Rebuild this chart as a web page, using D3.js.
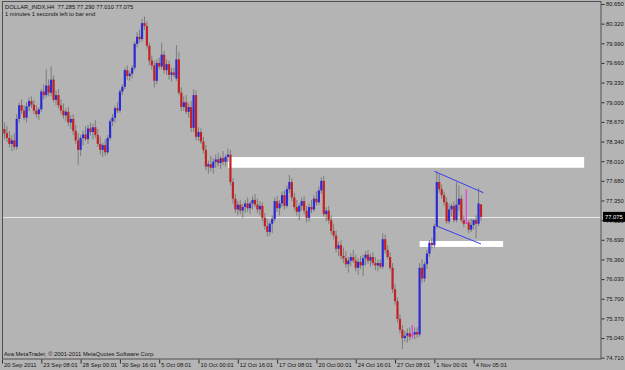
<!DOCTYPE html>
<html>
<head>
<meta charset="utf-8">
<script src="https://cdn.jsdelivr.net/npm/d3@7"></script>
<style>
  html, body { margin: 0; padding: 0; background: #b4b4b4; }
  svg { display: block; font-family: "Liberation Sans", Arial, sans-serif; }
</style>
</head>
<body>
<svg id="chart" width="625" height="370"></svg>
<script>
// H4 candles, DOLLAR_INDX, 20 Sep - 4 Nov 2011
const opens = [
  78.45,78.55,78.48,78.40,78.30,78.36,78.25,78.72,78.95,78.86,
  78.74,78.93,79.02,78.96,78.86,78.80,78.88,79.18,79.12,79.28,
  79.16,79.38,79.04,79.12,78.95,78.86,78.78,78.84,78.66,78.72,
  78.52,78.36,78.20,78.40,78.46,78.38,78.56,78.50,78.58,78.45,
  78.30,78.20,78.28,78.16,78.40,78.68,78.74,78.90,78.86,79.18,
  79.26,79.54,79.44,79.48,79.58,79.98,80.10,80.06,80.33,80.28,
  79.95,79.70,79.62,79.36,79.66,79.60,79.80,79.54,79.64,79.46,
  79.50,79.40,79.72,79.16,78.92,79.00,78.84,78.92,78.57,79.12,
  78.42,78.50,78.34,78.20,77.92,77.96,77.90,78.00,78.04,77.98,
  78.06,78.00,78.08,78.12,77.66,77.38,77.20,77.28,77.18,77.24,
  77.30,77.22,77.30,77.36,77.28,77.20,77.26,77.06,76.92,76.82,
  76.96,77.04,77.34,77.22,77.30,77.44,77.26,77.54,77.66,77.40,
  77.24,77.16,77.26,77.34,77.18,77.06,77.24,77.20,77.38,77.32,
  77.52,77.68,77.12,77.18,77.02,76.84,76.76,76.54,76.60,76.42,
  76.38,76.28,76.34,76.40,76.34,76.22,76.32,76.26,76.38,76.44,
  76.34,76.40,76.30,76.26,76.30,76.24,76.70,76.52,76.40,76.22,
  75.86,75.66,75.36,75.18,75.04,75.08,75.12,75.10,75.10,75.14,
  75.10,76.22,76.04,76.28,76.46,76.64,76.60,76.92,77.66,77.54,
  77.44,77.32,77.00,77.20,77.26,77.02,77.28,77.38,77.02,76.98,
  76.98,76.86,76.94,77.02,76.96,77.285
];
const highs = [
  78.62,78.66,78.60,78.52,78.45,78.48,78.80,79.00,79.05,78.95,
  79.00,79.08,79.10,79.04,78.95,78.92,79.22,79.30,79.55,79.38,
  79.60,79.45,79.20,79.22,79.05,78.98,78.90,78.92,78.78,78.80,
  78.62,78.48,78.45,78.52,78.60,78.62,78.66,78.64,78.70,78.55,
  78.42,78.32,78.38,78.45,78.72,78.80,78.94,79.00,79.22,79.30,
  79.58,79.62,79.52,79.62,80.02,80.18,80.22,80.40,80.44,80.36,
  80.00,79.78,79.70,79.72,79.75,80.00,79.86,79.72,79.70,79.58,
  79.58,79.96,79.85,79.25,79.10,79.12,78.98,79.02,79.22,79.20,
  78.58,78.56,78.42,78.28,78.02,78.10,78.06,78.12,78.15,78.10,
  78.18,78.12,78.22,78.20,77.72,77.46,77.34,77.36,77.30,77.36,
  77.40,77.34,77.42,77.46,77.38,77.34,77.32,77.14,77.04,77.00,
  77.10,77.40,77.42,77.36,77.50,77.52,77.60,77.78,77.72,77.48,
  77.36,77.30,77.40,77.42,77.26,77.30,77.36,77.44,77.50,77.58,
  77.74,77.76,77.24,77.26,77.10,76.96,76.84,76.66,76.68,76.56,
  76.50,76.40,76.46,76.52,76.44,76.38,76.42,76.44,76.50,76.52,
  76.46,76.48,76.40,76.36,76.36,76.80,76.78,76.60,76.48,76.30,
  75.94,75.72,75.44,75.26,75.16,75.20,75.22,75.26,75.22,75.22,
  76.30,76.36,76.32,76.52,76.68,76.72,76.96,77.84,77.80,77.62,
  77.50,77.40,77.30,77.30,77.34,77.66,77.60,77.44,77.10,77.54,
  77.02,77.04,77.04,77.10,77.56,77.290
];
const lows = [
  78.30,78.38,78.33,78.24,78.18,78.20,78.20,78.65,78.80,78.70,
  78.66,78.85,78.90,78.80,78.74,78.70,78.84,79.05,79.08,79.10,
  79.10,79.00,78.95,78.90,78.80,78.72,78.68,78.60,78.55,78.45,
  78.30,77.95,78.10,78.28,78.35,78.30,78.44,78.38,78.40,78.25,
  78.12,78.08,78.10,78.12,78.36,78.60,78.66,78.82,78.82,79.12,
  79.22,79.38,79.36,79.40,79.54,79.92,80.00,80.02,80.22,79.90,
  79.62,79.55,79.25,79.30,79.55,79.55,79.48,79.46,79.38,79.35,
  79.42,79.36,79.12,78.85,78.86,78.80,78.74,78.50,78.50,78.36,
  78.35,78.30,78.14,77.86,77.80,77.84,77.80,77.90,77.92,77.88,
  77.94,77.92,78.00,77.60,77.30,77.14,77.10,77.12,77.06,77.14,
  77.16,77.12,77.20,77.24,77.14,77.10,77.00,76.86,76.74,76.76,
  76.80,77.00,77.16,77.10,77.24,77.20,77.22,77.48,77.34,77.18,
  77.10,77.02,77.18,77.12,76.98,77.00,77.14,77.16,77.26,77.28,
  77.46,77.08,77.00,76.96,76.78,76.70,76.48,76.42,76.36,76.30,
  76.22,76.14,76.24,76.30,76.16,76.10,76.20,76.08,76.26,76.28,
  76.24,76.26,76.18,76.16,76.20,76.20,76.46,76.36,76.18,75.80,
  75.60,75.30,75.12,74.86,74.98,74.96,75.00,75.03,75.02,75.04,
  75.06,75.96,75.98,76.20,76.40,76.54,76.56,76.88,77.48,77.38,
  77.26,76.96,76.96,77.08,76.98,76.98,77.18,76.98,76.90,76.96,
  76.80,76.82,76.86,76.72,76.92,77.010
];
const closes = [
  78.55,78.48,78.40,78.30,78.36,78.25,78.72,78.95,78.86,78.74,
  78.93,79.02,78.96,78.86,78.80,78.88,79.18,79.12,79.28,79.16,
  79.38,79.04,79.12,78.95,78.86,78.78,78.84,78.66,78.72,78.52,
  78.36,78.20,78.40,78.46,78.38,78.56,78.50,78.58,78.45,78.30,
  78.20,78.28,78.16,78.40,78.68,78.74,78.90,78.86,79.18,79.26,
  79.54,79.44,79.48,79.58,79.98,80.10,80.06,80.33,80.28,79.95,
  79.70,79.62,79.36,79.66,79.60,79.80,79.54,79.64,79.46,79.50,
  79.46,79.72,79.16,78.92,79.00,78.84,78.92,78.57,79.12,78.42,
  78.50,78.34,78.20,77.92,77.96,77.90,78.00,78.04,77.98,78.06,
  78.00,78.08,78.12,77.66,77.38,77.20,77.28,77.18,77.24,77.30,
  77.22,77.30,77.36,77.28,77.20,77.26,77.06,76.92,76.82,76.96,
  77.04,77.34,77.22,77.30,77.44,77.26,77.54,77.66,77.40,77.24,
  77.16,77.26,77.34,77.18,77.06,77.24,77.20,77.38,77.32,77.52,
  77.68,77.12,77.18,77.02,76.84,76.76,76.54,76.60,76.42,76.38,
  76.28,76.34,76.40,76.34,76.22,76.32,76.26,76.38,76.44,76.34,
  76.40,76.30,76.26,76.30,76.24,76.70,76.52,76.40,76.22,75.86,
  75.66,75.36,75.18,75.04,75.08,75.12,75.06,75.10,75.14,75.10,
  76.22,76.04,76.28,76.46,76.64,76.60,76.92,77.66,77.54,77.44,
  77.32,77.00,77.20,77.26,77.02,77.28,77.38,77.02,76.96,76.98,
  76.86,76.94,77.02,76.96,77.30,77.075
];

// axis labels
const priceTicks = [80.65, 80.32, 79.99, 79.66, 79.33, 79.00, 78.67, 78.34, 78.01,
  77.68, 77.35, 77.02, 76.69, 76.36, 76.03, 75.70, 75.37, 75.04, 74.71];
const timeLabels = ['20 Sep 2011', '23 Sep 08:01', '28 Sep 00:01', '30 Sep 16:01',
  '5 Oct 08:01', '10 Oct 00:01', '12 Oct 16:01', '17 Oct 08:01', '20 Oct 00:01',
  '24 Oct 16:01', '27 Oct 08:01', '1 Nov 00:01', '4 Nov 05:01'];
const timeTickBars = [0, 16, 32, 48, 64, 80, 96, 112, 128, 144, 160, 176, 192];

// drawn objects: [startBar, endBar, lowPrice, highPrice]
const zones = [[92, 237, 77.90, 78.08], [170, 204, 76.57, 76.67]];
// trend lines: [bar1, price1, bar2, price2]
const trendLines = [[176, 77.84, 196, 77.48], [177, 76.92, 195, 76.62]];
const bidPrice = 77.075;

const W = 625, H = 370;
const plot = { left: 2, top: 1, right: 601, bottom: 359 };

const svg = d3.select('#chart');
svg.append('rect').attr('width', W).attr('height', H).attr('fill', '#b4b4b4');

const x = d3.scaleLinear().domain([0, 195]).range([2, 481]);
const y = d3.scaleLinear().domain([74.71, 80.65]).range([357.7, 4]);

svg.append('clipPath').attr('id', 'clip')
  .append('rect')
  .attr('x', plot.left).attr('y', plot.top)
  .attr('width', plot.right - plot.left).attr('height', plot.bottom - plot.top);

const g = svg.append('g').attr('clip-path', 'url(#clip)');

// zones (white rectangles)
g.selectAll('rect.zone')
  .data(zones)
  .join('rect')
  .attr('class', 'zone')
  .attr('x', d => x(d[0]))
  .attr('width', d => x(d[1]) - x(d[0]))
  .attr('y', d => y(d[3]))
  .attr('height', d => y(d[2]) - y(d[3]))
  .attr('fill', '#ffffff');

// bid line
g.append('line')
  .attr('x1', plot.left).attr('x2', plot.right)
  .attr('y1', Math.round(y(bidPrice)) + 0.5).attr('y2', Math.round(y(bidPrice)) + 0.5)
  .attr('stroke', '#e8e8e8').attr('stroke-width', 1);

// candles
const bars = d3.range(opens.length).map(i => ({
  i, o: opens[i], h: highs[i], l: lows[i], c: closes[i]
}));

const candle = g.selectAll('g.candle')
  .data(bars)
  .join('g')
  .attr('class', 'candle');

candle.append('line')
  .attr('x1', d => x(d.i)).attr('x2', d => x(d.i))
  .attr('y1', d => y(d.h)).attr('y2', d => y(d.l))
  .attr('stroke', d => d.o === d.c ? '#ee22ee' : '#7c7c7c')
  .attr('stroke-width', 1);

candle.append('rect')
  .attr('x', d => x(d.i) - 1.1)
  .attr('width', 2.2)
  .attr('y', d => y(Math.max(d.o, d.c)))
  .attr('height', d => Math.max(1, Math.abs(y(d.o) - y(d.c))))
  .attr('fill', d => d.o === d.c ? '#ee22ee' : (d.c > d.o ? '#2a2ad8' : '#c42222'));

// trend lines
g.selectAll('line.trend')
  .data(trendLines)
  .join('line')
  .attr('class', 'trend')
  .attr('x1', d => x(d[0])).attr('y1', d => y(d[1]))
  .attr('x2', d => x(d[2])).attr('y2', d => y(d[3]))
  .attr('stroke', '#3c3cf0').attr('stroke-width', 1);

// frame
svg.append('rect')
  .attr('x', plot.left + 0.5).attr('y', plot.top + 0.5)
  .attr('width', plot.right - plot.left - 0.5).attr('height', plot.bottom - plot.top - 0.5)
  .attr('fill', 'none').attr('stroke', '#505050');

// price axis
const yAxis = svg.append('g')
  .attr('transform', `translate(${plot.right + 0.5},0)`)
  .call(d3.axisRight(y).tickValues(priceTicks).tickSize(3).tickFormat(d3.format('.3f')));
yAxis.select('.domain').remove();
yAxis.selectAll('line').attr('stroke', '#303030');
yAxis.selectAll('text')
  .attr('x', 4.5)
  .attr('fill', '#151515')
  .attr('font-size', '5.8px')
  .attr('font-family', '"Liberation Sans", Arial, sans-serif');

// time axis
const xAxis = svg.append('g')
  .attr('transform', `translate(0,${plot.bottom + 0.5})`)
  .call(d3.axisBottom(x).tickValues(timeTickBars).tickSize(4).tickFormat((d, i) => timeLabels[i]));
xAxis.select('.domain').remove();
xAxis.selectAll('line').attr('stroke', '#303030');
xAxis.selectAll('text')
  .attr('text-anchor', 'start')
  .attr('x', 1.5)
  .attr('y', 3.5)
  .attr('fill', '#151515')
  .attr('font-size', '5.8px')
  .attr('font-family', '"Liberation Sans", Arial, sans-serif');

// bid price label
const by = y(bidPrice);
svg.append('rect')
  .attr('x', plot.right + 2).attr('y', by - 5)
  .attr('width', 22).attr('height', 10)
  .attr('fill', '#000');
svg.append('text')
  .attr('x', plot.right + 4).attr('y', by)
  .attr('dy', '0.35em')
  .attr('fill', '#fff')
  .attr('font-size', '5.8px')
  .text(d3.format('.3f')(bidPrice));

// header and footer texts
svg.append('text')
  .attr('x', 5).attr('y', 9)
  .attr('font-size', '5.8px').attr('fill', '#151515')
  .attr('xml:space', 'preserve')
  .text('DOLLAR_INDX,H4  77.285 77.290 77.010 77.075');
svg.append('text')
  .attr('x', 5).attr('y', 15.5)
  .attr('font-size', '5.8px').attr('fill', '#151515')
  .text('1 minutes 1 seconds left to bar end');
svg.append('text')
  .attr('x', 4).attr('y', 356)
  .attr('font-size', '5.8px').attr('fill', '#151515')
  .text('Ava MetaTrader, \u00a9 2001-2011 MetaQuotes Software Corp.');
</script>
</body>
</html>
